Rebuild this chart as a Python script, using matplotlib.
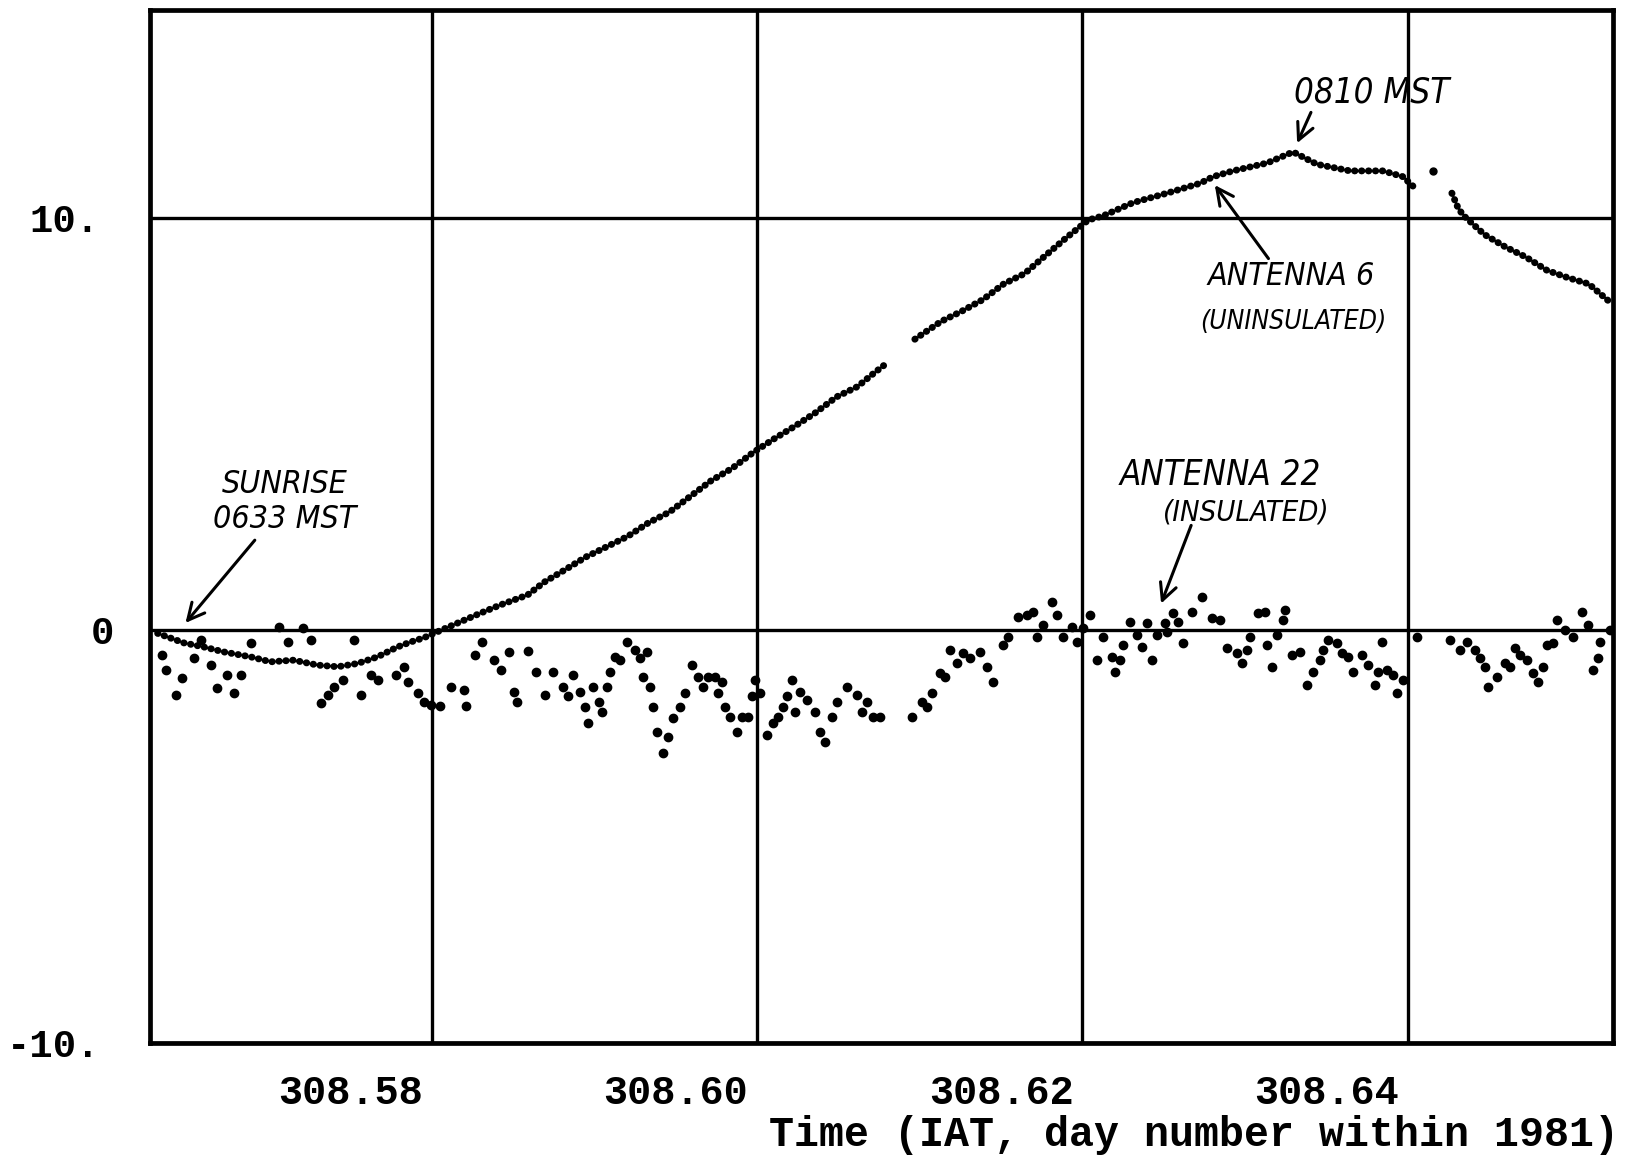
import numpy as np
import matplotlib
matplotlib.use("Agg")
import matplotlib.pyplot as plt
from matplotlib.transforms import ScaledTranslation

# ---------------- data ----------------
# Antenna 6 (uninsulated): time (day number) and value; NaN marks gaps in the record
ant6_t = [308.56817, 308.56977, 308.57100, 308.57223, 308.57388, 308.57511, 308.57652,
          308.57800, 308.57923, 308.58046, 308.58168, 308.58291, 308.58371, 308.58451,
          308.58555, 308.58678, 308.58801, 308.58924, 308.59090, 308.59192, 308.59320,
          308.59448, 308.59577, 308.59705, 308.59833, 308.59962, 308.60090, 308.60218,
          308.60347, 308.60475, 308.60603, 308.60732, 308.60860, 308.60988, 308.61117,
          308.61213, 308.61278, np.nan,
          308.61470, 308.61631, 308.61759, 308.61888, 308.62016, 308.62144, 308.62273,
          308.62401, 308.62536, 308.62627, 308.62811, 308.63020, 308.63223, 308.63303,
          308.63425, 308.63634, 308.63794, 308.63941, 308.64144, 308.64347, 308.64469,
          308.64531, np.nan,
          308.64770, 308.64807, 308.64838, 308.64969, 308.65097, 308.65225, 308.65354,
          308.65483, 308.65611, 308.65750]
ant6_v = [-0.07, -0.30, -0.40, -0.52, -0.64, -0.76, -0.72,
          -0.84, -0.88, -0.80, -0.64, -0.40, -0.28, -0.18,
          0.00, 0.21, 0.42, 0.62, 0.86, 1.17, 1.47,
          1.78, 2.03, 2.28, 2.61, 2.87, 3.25, 3.63,
          3.93, 4.31, 4.64, 4.95, 5.28, 5.66, 5.91,
          6.22, 6.42, np.nan,
          7.06, 7.49, 7.74, 8.02, 8.40, 8.65, 9.09,
          9.52, 9.95, 10.05, 10.37, 10.60, 10.84, 11.00,
          11.14, 11.33, 11.60, 11.30, 11.14, 11.14, 11.00,
          10.77, np.nan,
          10.60, 10.25, 10.07, 9.60, 9.30, 9.05, 8.73,
          8.55, 8.40, 7.93]
ant6_extra_t = [308.64654]
ant6_extra_v = [11.13]

# Antenna 22 (insulated): individual samples
ant22_t = [308.56846, 308.56866, 308.56928, 308.56969, 308.57038, 308.57081, 308.57143,
           308.57184, 308.57245, 308.57284, 308.57327, 308.57388, 308.57560, 308.57616,
           308.57708, 308.57757, 308.57818, 308.57861, 308.57898, 308.57953, 308.58021,
           308.58064, 308.58125, 308.58168, 308.58279, 308.58328, 308.58353, 308.58414,
           308.58451, 308.58494, 308.58555, 308.58617, 308.58697, 308.58709, 308.58770,
           308.58813, 308.58881, 308.58924, 308.58973, 308.59004, 308.59028, 308.59090,
           308.59139, 308.59200, 308.59249, 308.59305, 308.59341, 308.59372, 308.59415,
           308.59446, 308.59464, 308.59495, 308.59526, 308.59550, 308.59581, 308.59599,
           308.59630, 308.59661, 308.59704, 308.59753, 308.59784, 308.59802, 308.59827,
           308.59845, 308.59863, 308.59888, 308.59925, 308.59956, 308.59986, 308.60029,
           308.60060, 308.60103, 308.60140, 308.60170, 308.60201, 308.60244, 308.60263,
           308.60287, 308.60306, 308.60336, 308.60379, 308.60410, 308.60447, 308.60471,
           308.60490, 308.60521, 308.60564, 308.60600, 308.60631, 308.60662, 308.60686,
           308.60717, 308.60736, 308.60766, 308.60809, 308.60858, 308.60889, 308.60920,
           308.60963, 308.60993, 308.61055, 308.61116, 308.61147, 308.61178, 308.61214,
           308.61257,
           308.61454, 308.61515, 308.61546, 308.61577, 308.61626, 308.61657, 308.61687,
           308.61730, 308.61767, 308.61810, 308.61872, 308.61915, 308.61951, 308.62013,
           308.62044, 308.62105, 308.62160, 308.62197, 308.62222, 308.62259, 308.62314,
           308.62345, 308.62381, 308.62437, 308.62467, 308.62504, 308.62547, 308.62590,
           308.62627, 308.62682, 308.62701, 308.62731, 308.62750, 308.62793, 308.62836,
           308.62867, 308.62897, 308.62928, 308.62959, 308.63008, 308.63020, 308.63057,
           308.63088, 308.63118, 308.63174, 308.63235, 308.63296, 308.63346, 308.63389,
           308.63450, 308.63481, 308.63511, 308.63530, 308.63579,
           308.63622, 308.63634, 308.63665, 308.63696, 308.63732, 308.63745, 308.63788,
           308.63837, 308.63880, 308.63917, 308.63960, 308.63978, 308.64009, 308.64064,
           308.64095, 308.64132, 308.64162, 308.64218, 308.64254, 308.64297, 308.64316,
           308.64340, 308.64371, 308.64408, 308.64433, 308.64469, 308.64555,
           308.64758, 308.64819, 308.64862, 308.64912, 308.64942, 308.64973, 308.64991,
           308.65047, 308.65096, 308.65127, 308.65157, 308.65188, 308.65231, 308.65268,
           308.65299, 308.65329, 308.65354, 308.65391, 308.65415, 308.65464, 308.65514,
           308.65569, 308.65606, 308.65636, 308.65667, 308.65679, 308.65741]
ant22_v = [-0.60, -0.96, -1.57, -1.15, -0.67, -0.23, -0.84,
           -1.40, -1.08, -1.52, -1.08, -0.30, 0.09, -0.28,
           0.06, -0.23, -1.76, -1.57, -1.37, -1.20, -0.23,
           -1.57, -1.08, -1.20, -1.08, -0.88, -1.25, -1.52,
           -1.73, -1.80, -1.84, -1.37, -1.44, -1.84, -0.60,
           -0.28, -0.72, -0.96, -0.52, -1.49, -1.73, -0.50,
           -1.00, -1.57, -1.00, -1.37, -1.60, -1.08, -1.49,
           -1.85, -2.24, -1.37, -1.73, -1.97, -1.37, -1.00,
           -0.64, -0.72, -0.28, -0.47, -0.67, -1.13, -0.52,
           -1.37, -1.85, -2.46, -2.97, -2.58, -2.12, -1.85,
           -1.52, -0.84, -1.13, -1.37, -1.13, -1.13, -1.52,
           -1.25, -1.85, -2.10, -2.46, -2.10, -2.10, -1.60,
           -1.20, -1.52, -2.53, -2.24, -2.10, -1.85, -1.60,
           -1.20, -1.97, -1.49, -1.69, -1.97, -2.46, -2.70,
           -2.10, -1.73, -1.37, -1.57, -1.97, -1.73, -2.10,
           -2.10,
           -2.10, -1.73, -1.85, -1.52, -1.03, -1.13, -0.47,
           -0.80, -0.55, -0.67, -0.52, -0.88, -1.25, -0.35,
           -0.16, 0.33, 0.38, 0.45, -0.16, 0.13, 0.69,
           0.38, -0.16, 0.09, -0.28, 0.06, 0.38, -0.72,
           -0.16, -0.64, -1.00, -0.72, -0.35, 0.21, -0.11,
           -0.40, 0.18, -0.72, -0.11, 0.18, -0.04, 0.42,
           0.21, -0.30, 0.45, 0.81, 0.30, 0.25, -0.43,
           -0.55, -0.80, -0.47, -0.16, 0.42,
           0.45, -0.35, -0.88, -0.11, 0.25, 0.50, -0.60,
           -0.52, -1.32, -1.00, -0.72, -0.47, -0.23, -0.30,
           -0.55, -0.64, -1.00, -0.60, -0.84, -1.32, -1.00,
           -0.28, -0.96, -1.08, -1.52, -1.20, -0.16,
           -0.23, -0.47, -0.28, -0.47, -0.67, -0.88, -1.37,
           -1.13, -0.80, -0.88, -0.43, -0.60, -0.72, -1.03,
           -1.25, -0.88, -0.35, -0.30, 0.25, 0.01, -0.16,
           0.45, 0.13, -0.96, -0.67, -0.28, 0.01]

label_ticks = [308.58, 308.60, 308.62, 308.64]
label_texts = ["308.58", "308.60", "308.62", "308.64"]
grid_x = [308.585, 308.605, 308.625, 308.645]
y_ticks = [-10, 0, 10]
y_texts = ["-10.", "0", "10."]
x_range = (308.5677, 308.6576)
y_range = (-10, 15.04)

# ---------------- figure ----------------
fig = plt.figure(figsize=(16.39, 11.62), dpi=100)
ax = fig.add_axes([150 / 1639, 1 - 1043 / 1162, 1463 / 1639, 1033 / 1162])
ax.set_xlim(*x_range)
ax.set_ylim(*y_range)

mono = dict(family=["Liberation Mono", "DejaVu Sans Mono"], weight="bold")

ax.set_xticks(label_ticks)
ax.set_xticklabels(label_texts, fontdict=dict(size=29, **mono))
ax.set_xticks(grid_x, minor=True)
ax.set_yticks(y_ticks)
ax.set_yticklabels(y_texts, fontdict=dict(size=28, **mono))
ax.tick_params(axis="x", which="both", length=0, pad=22)
ax.tick_params(axis="y", which="both", length=0, pad=26)
ax.grid(True, axis="x", which="minor", color="black", lw=2.4)
ax.grid(True, axis="y", which="major", color="black", lw=2.4)
ax.grid(False, axis="x", which="major")
for s in ax.spines.values():
    s.set_linewidth(3.4)
    s.set_color("black")

# the plotter put the decimal-point labels a little further left than "0"
shift_left = ScaledTranslation(-0.14, 0, fig.dpi_scale_trans)
for lab in ax.get_yticklabels():
    if lab.get_text() != "0":
        lab.set_transform(lab.get_transform() + shift_left)

# data
ax.plot(ant6_t, ant6_v, color="black", lw=5.0, linestyle=(0, (0.05, 0.95)),
        dash_capstyle="round", zorder=3)
ax.plot(ant6_extra_t, ant6_extra_v, "o", color="black", ms=5, zorder=3)
ax.plot(ant22_t, ant22_v, "o", color="black", ms=6, mec="black", zorder=3)

ax.set_xlabel("Time (IAT, day number within 1981)", fontdict=dict(size=30, **mono),
              loc="right", va="center")
ax.xaxis.set_label_coords(1.004, -0.089)

# annotations (handwritten notes)
hand = dict(family="DejaVu Sans", style="oblique", stretch="condensed", color="black")
arrow = dict(arrowstyle="->", lw=2.2, color="black", mutation_scale=30)

ax.text(308.57600, 3.12, "SUNRISE\n0633 MST", ha="center", va="center",
        fontsize=23, linespacing=1.15, **hand)
ax.annotate("", xy=(308.56977, 0.13), xytext=(308.57425, 2.24), arrowprops=arrow)

ax.text(308.64280, 13.05, "0810 MST", ha="center", va="center", fontsize=25, **hand)
ax.annotate("", xy=(308.63812, 11.75), xytext=(308.63911, 12.62), arrowprops=arrow)

ax.text(308.63782, 8.57, "ANTENNA 6", ha="center", va="center", fontsize=23, **hand)
ax.text(308.63794, 7.48, "(UNINSULATED)", ha="center", va="center", fontsize=19, **hand)
ax.annotate("", xy=(308.63303, 10.85), xytext=(308.63653, 8.96), arrowprops=arrow)

ax.text(308.63346, 3.77, "ANTENNA 22", ha="center", va="center", fontsize=25, **hand)
ax.text(308.63505, 2.87, "(INSULATED)", ha="center", va="center", fontsize=21, **hand)
ax.annotate("", xy=(308.62977, 0.59), xytext=(308.63174, 2.61), arrowprops=arrow)

fig.savefig("out.png", dpi=100, facecolor="white")
